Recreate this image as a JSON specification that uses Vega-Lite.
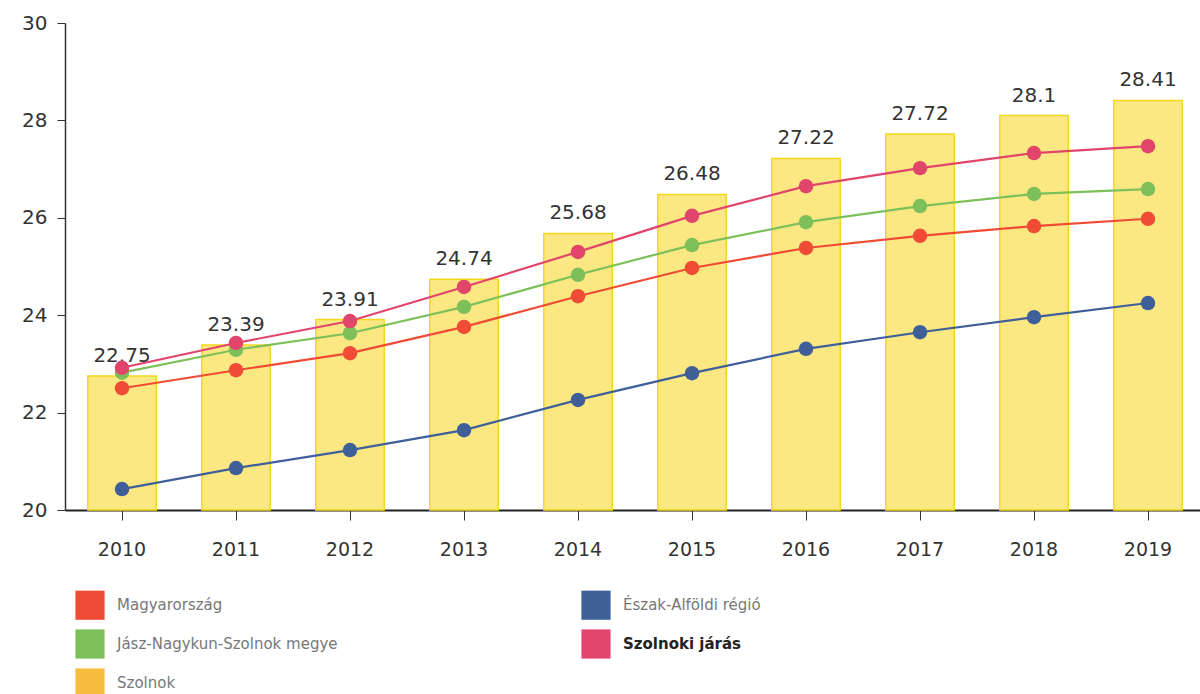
{
  "$schema": "https://vega.github.io/schema/vega-lite/v6.json",
  "width": 1140,
  "height": 487,
  "autosize": {"type": "none"},
  "padding": {"left": 65, "top": 23, "right": 0, "bottom": 184},
  "background": "white",
  "config": {"view": {"stroke": null}, "font": "DejaVu Sans"},
  "datasets": {
    "bars": [
      {"year": "2010", "value": 22.75},
      {"year": "2011", "value": 23.39},
      {"year": "2012", "value": 23.91},
      {"year": "2013", "value": 24.74},
      {"year": "2014", "value": 25.68},
      {"year": "2015", "value": 26.48},
      {"year": "2016", "value": 27.22},
      {"year": "2017", "value": 27.72},
      {"year": "2018", "value": 28.1},
      {"year": "2019", "value": 28.41}
    ],
    "lines": [
      {"year": "2010", "series": "Magyarország", "value": 22.5},
      {"year": "2011", "series": "Magyarország", "value": 22.87},
      {"year": "2012", "series": "Magyarország", "value": 23.22},
      {"year": "2013", "series": "Magyarország", "value": 23.76},
      {"year": "2014", "series": "Magyarország", "value": 24.39},
      {"year": "2015", "series": "Magyarország", "value": 24.97},
      {"year": "2016", "series": "Magyarország", "value": 25.38},
      {"year": "2017", "series": "Magyarország", "value": 25.63},
      {"year": "2018", "series": "Magyarország", "value": 25.83},
      {"year": "2019", "series": "Magyarország", "value": 25.98},
      {"year": "2010", "series": "Jász-Nagykun-Szolnok megye", "value": 22.82},
      {"year": "2011", "series": "Jász-Nagykun-Szolnok megye", "value": 23.29},
      {"year": "2012", "series": "Jász-Nagykun-Szolnok megye", "value": 23.63},
      {"year": "2013", "series": "Jász-Nagykun-Szolnok megye", "value": 24.17},
      {"year": "2014", "series": "Jász-Nagykun-Szolnok megye", "value": 24.83},
      {"year": "2015", "series": "Jász-Nagykun-Szolnok megye", "value": 25.44},
      {"year": "2016", "series": "Jász-Nagykun-Szolnok megye", "value": 25.91},
      {"year": "2017", "series": "Jász-Nagykun-Szolnok megye", "value": 26.24},
      {"year": "2018", "series": "Jász-Nagykun-Szolnok megye", "value": 26.49},
      {"year": "2019", "series": "Jász-Nagykun-Szolnok megye", "value": 26.59},
      {"year": "2010", "series": "Észak-Alföldi régió", "value": 20.43},
      {"year": "2011", "series": "Észak-Alföldi régió", "value": 20.86},
      {"year": "2012", "series": "Észak-Alföldi régió", "value": 21.23},
      {"year": "2013", "series": "Észak-Alföldi régió", "value": 21.64},
      {"year": "2014", "series": "Észak-Alföldi régió", "value": 22.26},
      {"year": "2015", "series": "Észak-Alföldi régió", "value": 22.81},
      {"year": "2016", "series": "Észak-Alföldi régió", "value": 23.31},
      {"year": "2017", "series": "Észak-Alföldi régió", "value": 23.65},
      {"year": "2018", "series": "Észak-Alföldi régió", "value": 23.96},
      {"year": "2019", "series": "Észak-Alföldi régió", "value": 24.25},
      {"year": "2010", "series": "Szolnoki járás", "value": 22.92},
      {"year": "2011", "series": "Szolnoki járás", "value": 23.43},
      {"year": "2012", "series": "Szolnoki járás", "value": 23.88},
      {"year": "2013", "series": "Szolnoki járás", "value": 24.58},
      {"year": "2014", "series": "Szolnoki járás", "value": 25.3},
      {"year": "2015", "series": "Szolnoki járás", "value": 26.04},
      {"year": "2016", "series": "Szolnoki járás", "value": 26.65},
      {"year": "2017", "series": "Szolnoki járás", "value": 27.02},
      {"year": "2018", "series": "Szolnoki járás", "value": 27.33},
      {"year": "2019", "series": "Szolnoki járás", "value": 27.47}
    ]
  },
  "encoding": {
    "x": {
      "field": "year",
      "type": "ordinal",
      "scale": {"paddingInner": 0.4, "paddingOuter": 0.2},
      "axis": {
        "title": null,
        "labelAngle": 0,
        "labelFontSize": 19,
        "labelColor": "#333",
        "labelPadding": 20,
        "tickSize": 10,
        "tickColor": "#333",
        "domainColor": "#222",
        "domainWidth": 2
      }
    },
    "y": {
      "type": "quantitative",
      "scale": {"domain": [20, 30], "zero": false, "nice": false},
      "axis": {
        "title": null,
        "values": [20, 22, 24, 26, 28, 30],
        "grid": false,
        "labelFontSize": 20,
        "labelColor": "#333",
        "labelPadding": 10,
        "tickSize": 8,
        "tickColor": "#333",
        "domainColor": "#333",
        "domainWidth": 1.5
      }
    }
  },
  "layer": [
    {
      "data": {"name": "bars"},
      "mark": {"type": "bar", "fill": "#fbe883", "stroke": "#f3d81c", "strokeWidth": 1.5},
      "encoding": {
        "y": {"field": "value"},
        "y2": {"datum": 20}
      }
    },
    {
      "data": {"name": "bars"},
      "mark": {"type": "text", "baseline": "bottom", "dy": -10, "fontSize": 20, "fill": "#333"},
      "encoding": {
        "y": {"field": "value"},
        "text": {"field": "value", "type": "quantitative"}
      }
    },
    {
      "data": {"name": "lines"},
      "mark": {"type": "line", "strokeWidth": 2.2},
      "encoding": {
        "y": {"field": "value"},
        "color": {
          "field": "series",
          "type": "nominal",
          "scale": {
            "domain": ["Magyarország", "Észak-Alföldi régió", "Jász-Nagykun-Szolnok megye", "Szolnoki járás", "Szolnok"],
            "range": ["#f04b34", "#3f5f98", "#7dc05a", "#e1456b", "#f7bb3e"]
          },
          "legend": {
            "orient": "none",
            "legendX": 10,
            "legendY": 567,
            "direction": "horizontal",
            "columns": 2,
            "title": null,
            "symbolType": "square",
            "symbolSize": 850,
            "symbolStrokeWidth": 0,
            "symbolOpacity": 1,
            "labelFontSize": 15,
            "labelColor": "#777",
            "labelOffset": 12,
            "labelLimit": 400,
            "rowPadding": 9,
            "columnPadding": 243,
            "encode": {
              "labels": {
                "update": {
                  "fontWeight": {"signal": "datum.value === 'Szolnoki járás' ? 'bold' : 'normal'"},
                  "fill": {"signal": "datum.value === 'Szolnoki járás' ? '#222' : '#777'"}
                }
              }
            }
          }
        }
      }
    },
    {
      "data": {"name": "lines"},
      "mark": {"type": "point", "filled": true, "size": 210, "opacity": 1},
      "encoding": {
        "y": {"field": "value"},
        "color": {"field": "series", "type": "nominal", "legend": null}
      }
    }
  ]
}
